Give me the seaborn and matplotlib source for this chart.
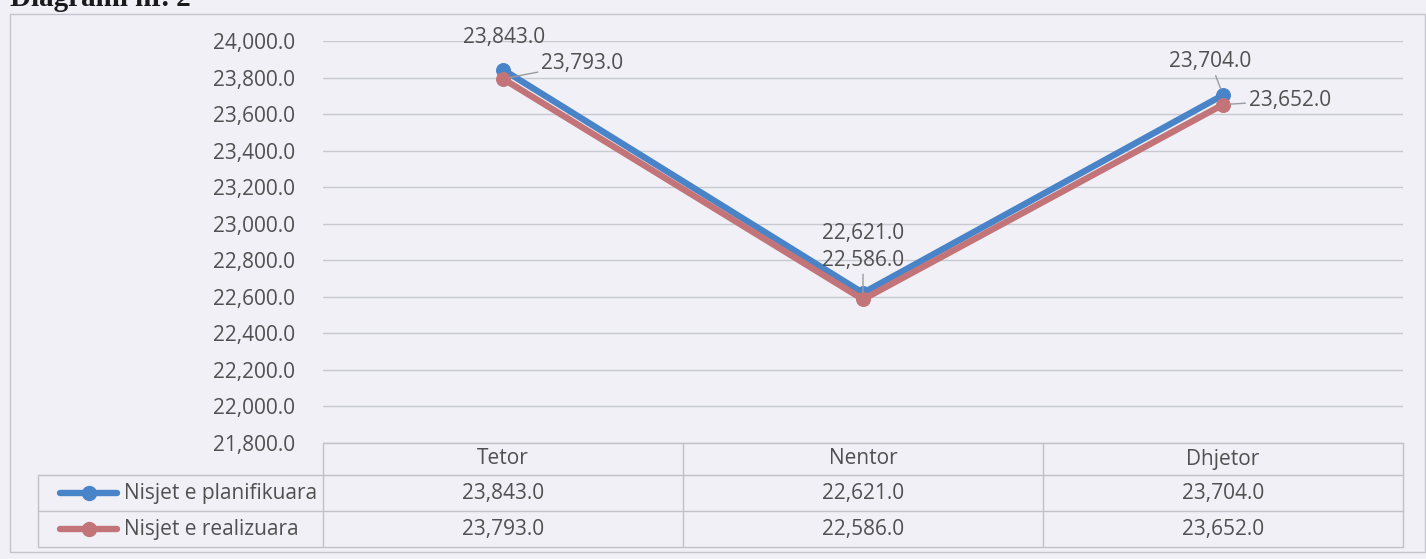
import matplotlib
matplotlib.use("Agg")
import matplotlib.pyplot as plt
import matplotlib.transforms as mtransforms
from matplotlib.lines import Line2D
from matplotlib.patches import Rectangle
import pandas as pd
import seaborn as sns

# --- data ---------------------------------------------------------------
months = ["Tetor", "Nentor", "Dhjetor"]
series_names = ["Nisjet e planifikuara", "Nisjet e realizuara"]
planned = [23843.0, 22621.0, 23704.0]
realized = [23793.0, 22586.0, 23652.0]
y_ticks = [21800, 22000, 22200, 22400, 22600, 22800, 23000,
           23200, 23400, 23600, 23800, 24000]
title = "Diagrami nr. 2"

values = {series_names[0]: planned, series_names[1]: realized}
df = pd.DataFrame({
    "muaji": months * 2,
    "nisjet": planned + realized,
    "seria": [series_names[0]] * len(months) + [series_names[1]] * len(months),
})

# --- style ----------------------------------------------------------------
sns.set_theme(style="white")
plt.rcParams["font.family"] = ["Open Sans", "DejaVu Sans"]

bg = "#f1f0f7"
grid_c = "#c8c8d0"
text_c = "#505050"
colors = {series_names[0]: "#4a84c8", series_names[1]: "#c27478"}
fs = 15

W, H = 1426, 559
fig = plt.figure(figsize=(W / 100, H / 100), dpi=100, facecolor=bg)
ax = fig.add_axes([323 / W, 1 - 443 / H, 1080 / W, 402 / H])
ax.set_facecolor("none")

# outer chart frame
fig.patches.append(Rectangle((10 / W, 1 - 552 / H), (1425 - 10) / W, (552 - 14) / H,
                             transform=fig.transFigure, fill=False,
                             edgecolor="#c4c4cc", lw=1.0))

# title, partly cut off at the top edge
fig.text(10 / W, 1 - 6 / H, title, fontsize=21, fontweight="bold",
         family=["Liberation Serif", "DejaVu Serif"], color="#1a1a1a",
         ha="left", va="baseline")

# --- lines ------------------------------------------------------------------
for name in series_names:
    sub = df[df["seria"] == name]
    sns.lineplot(data=sub, x="muaji", y="nisjet", ax=ax, sort=False,
                 color=colors[name], lw=4.6, marker="o", markersize=10,
                 markeredgecolor=colors[name], legend=False, zorder=3)

ax.set_xlim(-0.5, len(months) - 0.5)
ax.set_ylim(y_ticks[0], y_ticks[-1])
ax.set_yticks(y_ticks)
ax.set_yticklabels([f"{v:,.1f}" for v in y_ticks])
ax.yaxis.grid(True, color=grid_c, lw=1.0)
ax.xaxis.grid(False)
ax.set_axisbelow(True)
ax.tick_params(axis="y", length=0, pad=20, labelsize=fs, labelcolor=text_c)
ax.tick_params(axis="x", bottom=False, labelbottom=False)
ax.set_xlabel("")
ax.set_ylabel("")
for s in ax.spines.values():
    s.set_visible(False)

# --- data labels ----------------------------------------------------------------
lead = dict(arrowstyle="-", color="#9a9aa2", lw=1.0, shrinkA=0, shrinkB=5)
label_offsets = {
    series_names[0]: [((1, 23), None), ((0, 43), None), ((-9, 24), lead)],
    series_names[1]: [((57, 11), lead), ((0, 28), lead), ((48, 3), lead)],
}
for name in series_names:
    for i, m in enumerate(months):
        v = values[name][i]
        (dx, dy), ap = label_offsets[name][i]
        ax.annotate(f"{v:,.1f}", xy=(i, v), xytext=(dx, dy),
                    textcoords="offset points", ha="center", va="center",
                    fontsize=fs, color=text_c, arrowprops=ap, zorder=4)

# --- data table beneath the plot -------------------------------------------------
tbl_c = "#c0c0c8"
blend = mtransforms.blended_transform_factory(ax.transData, ax.transAxes)
ax_h = 402.0
r1, r2, r3 = -32 / ax_h, -68 / ax_h, -104 / ax_h
left_leg = (38 - 323) / 1080.0

# horizontal rules
ax.add_line(Line2D([-0.5, len(months) - 0.5], [0, 0], transform=blend,
                   color=tbl_c, lw=1.0, clip_on=False))
for yy in (r1, r2, r3):
    ax.add_line(Line2D([left_leg, 1.0], [yy, yy], transform=ax.transAxes,
                       color=tbl_c, lw=1.0, clip_on=False))
# vertical rules
for k in range(len(months) + 1):
    ax.add_line(Line2D([k - 0.5, k - 0.5], [0, r3], transform=blend,
                       color=tbl_c, lw=1.0, clip_on=False))
ax.add_line(Line2D([left_leg, left_leg], [r1, r3], transform=ax.transAxes,
                   color=tbl_c, lw=1.0, clip_on=False))

# header row
for i, m in enumerate(months):
    ax.text(i, (0 + r1) / 2, m, transform=blend, ha="center", va="center",
            fontsize=fs, color=text_c)

# series rows with legend keys
row_mid = [(r1 + r2) / 2, (r2 + r3) / 2]
for name, ym in zip(series_names, row_mid):
    kx0, kx1 = (60 - 323) / 1080.0, (117 - 323) / 1080.0
    ax.add_line(Line2D([kx0, (kx0 + kx1) / 2, kx1], [ym, ym, ym],
                       transform=ax.transAxes, color=colors[name], lw=4.6,
                       marker="o", markersize=10, markevery=[1],
                       solid_capstyle="round", clip_on=False))
    ax.text((124 - 323) / 1080.0, ym, name, transform=ax.transAxes,
            ha="left", va="center", fontsize=fs, color=text_c)
    for i, v in enumerate(values[name]):
        ax.text(i, ym, f"{v:,.1f}", transform=blend, ha="center",
                va="center", fontsize=fs, color=text_c)

fig.savefig("out.png", dpi=100, facecolor=bg)
